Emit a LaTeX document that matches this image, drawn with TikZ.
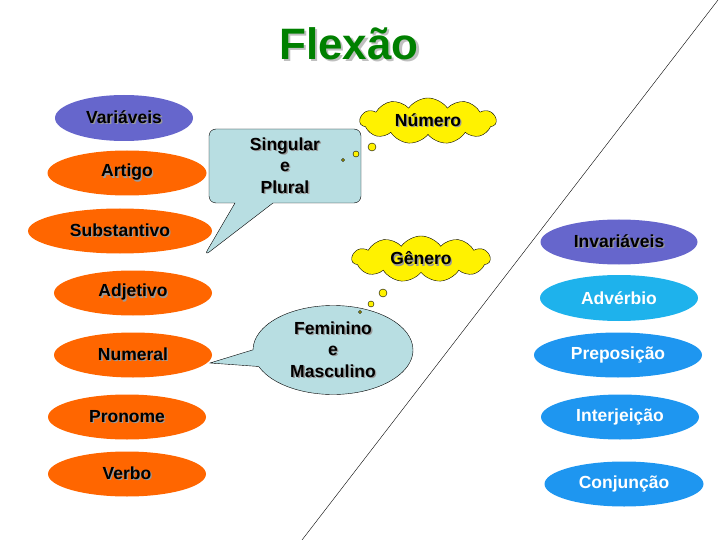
\documentclass[tikz,border=0pt]{standalone}
\usepackage{fontspec}
\setmainfont{Liberation Sans}
\usetikzlibrary{shapes.geometric, shapes.symbols, shapes.callouts}
\usepackage{xcolor}

\definecolor{roxo}{RGB}{102,102,204}
\definecolor{laranja}{RGB}{255,102,0}
\definecolor{celeste}{RGB}{30,178,236}
\definecolor{azul}{RGB}{30,150,240}
\definecolor{balao}{RGB}{184,222,226}
\definecolor{verde}{RGB}{0,128,0}

% texto com sombra cinza
\newcommand{\sombra}[1]{\makebox[0pt][l]{\kern1.3pt\raisebox{-1.3pt}{\textcolor{black!40}{#1}}}#1}

\begin{document}
\begin{tikzpicture}[
    x=1pt,
    y=-1pt,
    font=\fontsize{17.5}{21.5}\selectfont\bfseries,
    classe/.style={ellipse, draw=none, minimum width=158pt, minimum height=45pt, inner sep=0pt},
    variavel/.style={classe, fill=laranja},
    invariavel/.style={classe, fill=azul, text=white},
    grupo/.style={classe, fill=roxo},
    nuvem/.style={cloud, cloud puffs=11, cloud puff arc=110, aspect=2.9, draw, fill=yellow, inner sep=0pt, minimum width=136pt, minimum height=46pt},
    bolha/.style={draw, fill=yellow, thin},
    fala/.style={draw, fill=balao, align=center, thin}
]
\useasboundingbox (0,0) rectangle (720,540);

\node[font=\fontsize{44}{48}\selectfont\bfseries, text=verde] (titulo) at (349,45)
    {\makebox[0pt][l]{\kern2.5pt\raisebox{-2.5pt}{\textcolor{black!25}{Flexão}}}Flexão};

% divisoria
\coordinate (divtopo) at (718,0);
\coordinate (divbase) at (302,540);
\draw[thin] (divtopo) -- (divbase);

% palavras variaveis
\node[grupo, minimum width=138pt, minimum height=46pt] (variaveis) at (124,118) {\sombra{Variáveis}};
\node[variavel, minimum width=159pt] (artigo) at (127,173) {\sombra{Artigo}};
\node[variavel, minimum width=184pt] (substantivo) at (120,231) {\sombra{Substantivo}};
\node[variavel] (adjetivo) at (133,293) {\sombra{Adjetivo}};
\node[variavel] (numeral) at (133,355) {\sombra{Numeral}};
\node[variavel] (pronome) at (127,417) {\sombra{Pronome}};
\node[variavel] (verbo) at (127,474) {\sombra{Verbo}};

% palavras invariaveis
\node[grupo, minimum width=157pt] (invariaveis) at (619,242) {\sombra{Invariáveis}};
\node[invariavel, fill=celeste, minimum height=46pt] (adverbio) at (619,298) {Advérbio};
\node[invariavel, minimum width=168pt] (preposicao) at (618,355) {Preposição};
\node[invariavel] (interjeicao) at (620,417) {Interjeição};
\node[invariavel, minimum width=159pt] (conjuncao) at (624,484) {Conjunção};

% flexao
\node[nuvem] (numero) at (428,121) {\sombra{Número}};
\node[nuvem, minimum width=138pt] (genero) at (421,259) {\sombra{Gênero}};

\node[fala, rectangle callout, rounded corners=7pt, minimum width=152pt, minimum height=74pt,
      callout pointer width=38pt, callout absolute pointer={(204,256)}] (singplural) at (285,166)
    {\sombra{Singular}\\\sombra{e}\\\sombra{Plural}};
\node[fala, ellipse callout, minimum width=160pt, minimum height=89pt, inner sep=0pt,
      callout pointer arc=22, callout absolute pointer={(210,363)}] (femmasc) at (333,350)
    {\sombra{Feminino}\\\sombra{e}\\\sombra{Masculino}};

\draw[bolha] (372,147) circle (4);
\draw[bolha] (356,154) circle (3);
\draw[bolha] (343,160) circle (1.5);
\draw[bolha] (383,293) circle (4);
\draw[bolha] (371,304) circle (3);
\draw[bolha] (360,312) circle (1.5);
\end{tikzpicture}
\end{document}
